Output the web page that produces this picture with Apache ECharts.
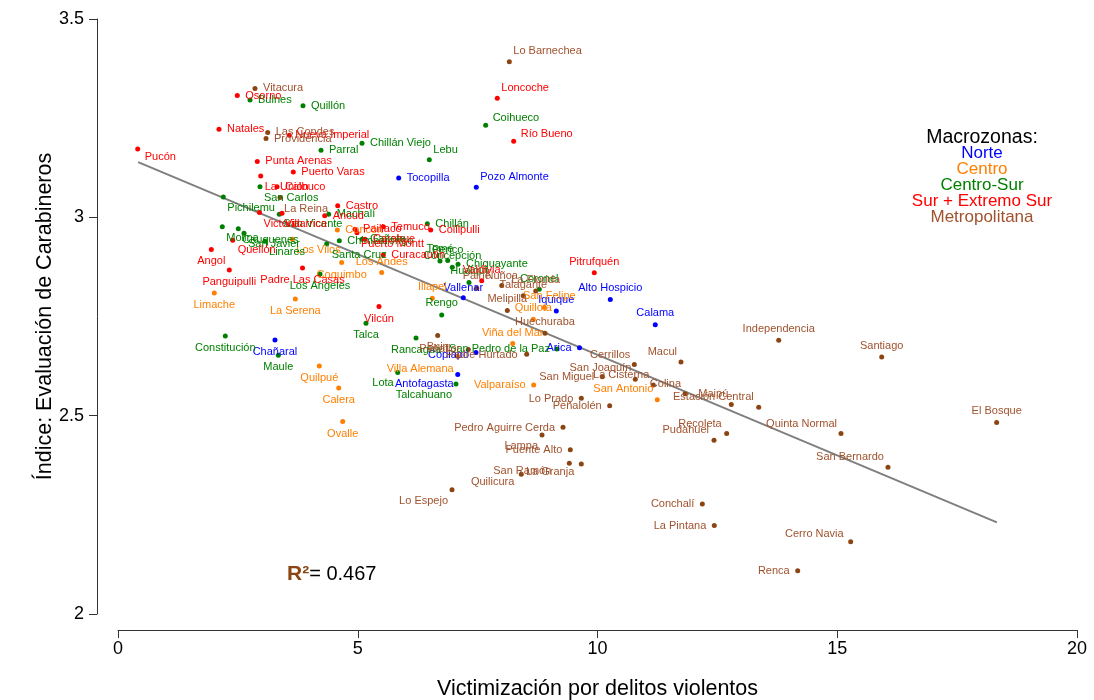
<!DOCTYPE html>
<html><head><meta charset="utf-8">
<script src="https://cdn.jsdelivr.net/npm/echarts@6/dist/echarts.min.js"></script>
<style>html,body{margin:0;padding:0;background:#fff}#c{width:1094px;height:700px}</style>
</head><body><div id="c"></div>
<script>
// ---------- DATA ----------
const zoneNames = ['Norte', 'Centro', 'Centro-Sur', 'Sur + Extremo Sur', 'Metropolitana'];

const norteNames = ['Tocopilla','Pozo Almonte','Chañaral','Antofagasta','Arica','Copiapó','Calama','Alto Hospicio','Iquique','Vallenar'];
const norteX = [5.854, 7.472, 3.274, 7.085, 9.625, 7.466, 11.205, 10.267, 9.141, 7.201];
const norteY = [3.099, 3.076, 2.691, 2.604, 2.671, 2.659, 2.729, 2.793, 2.764, 2.797];

const centroNames = ['Concón','Los Vilos','Limache','La Serena','Quilpué','Calera','Ovalle','Villa Alemana','Quillota','Viña del Mar','Valparaíso','San Antonio','San Felipe','Illapel','Los Andes','Coquimbo'];
const centroX = [4.574, 3.635, 2.008, 3.698, 4.198, 4.603, 4.686, 7.085, 8.661, 8.231, 8.669, 11.247, 8.891, 6.555, 5.499, 4.665];
const centroY = [2.968, 2.945, 2.809, 2.794, 2.625, 2.570, 2.485, 2.649, 2.743, 2.682, 2.577, 2.540, 2.773, 2.796, 2.861, 2.886];

const centroSurNames = ['Bulnes','Quillón','Coihueco','Chillán Viejo','Lebu','Parral','San Carlos','Pichilemu','San Vicente','Machalí','Chillán','Molina','Cauquenes','San Javier','Linares','Los Ángeles','Constitución','Maule','Talca','Rancagua','Lota','Talcahuano','San Pedro de la Paz','Rengo','Tomé','Penco','Concepción','Santa Cruz','Chimbarongo','Cañete','Hualqui','Coronel','Chiguayante'];
const centroSurX = [2.753, 3.858, 7.668, 5.089, 6.492, 4.234, 2.961, 2.196, 3.364, 4.394, 6.451, 2.175, 2.509, 2.628, 3.066, 4.213, 2.238, 3.343, 5.172, 6.215, 5.833, 7.049, 9.155, 6.751, 6.715, 6.876, 6.972, 4.352, 4.615, 5.089, 7.320, 8.786, 7.091];
const centroSurY = [3.296, 3.281, 3.232, 3.187, 3.145, 3.169, 3.077, 3.051, 3.008, 3.008, 2.984, 2.976, 2.971, 2.960, 2.940, 2.857, 2.701, 2.652, 2.733, 2.696, 2.609, 2.580, 2.668, 2.754, 2.890, 2.891, 2.874, 2.933, 2.941, 2.945, 2.836, 2.819, 2.882];

const surNames = ['Osorno','Loncoche','Natales','Nueva Imperial','Río Bueno','Pucón','Punta Arenas','Puerto Varas','La Unión','Calbuco','Castro','Victoria','Villarrica','Ancud','Paillaco','Temuco','Collipulli','Quellón','Angol','Panguipulli','Padre Las Casas','Vilcún','Pitrufquén','Carahue','Puerto Montt','Curacautín','Valdivia'];
const surX = [2.488, 7.910, 2.106, 3.572, 8.252, 0.411, 2.905, 3.656, 2.976, 3.316, 4.582, 2.951, 3.420, 4.311, 4.943, 5.533, 6.521, 2.392, 1.946, 2.321, 3.848, 5.443, 9.933, 5.151, 4.984, 5.533, 7.585];
const surY = [3.307, 3.300, 3.222, 3.207, 3.192, 3.172, 3.141, 3.114, 3.104, 3.077, 3.029, 3.012, 3.010, 3.004, 2.970, 2.976, 2.968, 2.942, 2.919, 2.867, 2.872, 2.775, 2.860, 2.945, 2.961, 2.905, 2.840];

const metroNames = ['Lo Barnechea','Vitacura','Las Condes','Providencia','La Reina','Huechuraba','Padre Hurtado','Buin','Peñaflor','San Miguel','Cerrillos','San Joaquín','La Cisterna','Macul','Colina','Maipú','Estación Central','Independencia','Santiago','Recoleta','Pudahuel','Quinta Normal','San Bernardo','El Bosque','Conchalí','La Pintana','Cerro Navia','Renca','Lo Prado','Peñalolén','Pedro Aguirre Cerda','Lampa','Puente Alto','San Ramón','La Granja','Quilicura','Lo Espejo','Melipilla','Paine','Ñuñoa','Talagante','La Florida'];
const metroX = [8.161, 2.857, 3.122, 3.087, 3.379, 8.905, 8.523, 6.667, 7.305, 10.100, 10.768, 10.788, 11.164, 11.741, 11.825, 12.790, 13.362, 13.779, 15.927, 12.694, 12.430, 15.078, 16.058, 18.325, 12.186, 12.436, 15.280, 14.175, 9.662, 10.254, 9.281, 8.843, 9.433, 9.412, 9.662, 8.411, 6.966, 8.119, 7.481, 8.002, 8.453, 8.711];
const metroY = [3.392, 3.325, 3.214, 3.199, 3.050, 2.708, 2.655, 2.702, 2.667, 2.598, 2.629, 2.592, 2.577, 2.635, 2.555, 2.528, 2.521, 2.690, 2.648, 2.455, 2.438, 2.455, 2.370, 2.483, 2.277, 2.223, 2.182, 2.109, 2.544, 2.525, 2.471, 2.451, 2.414, 2.380, 2.378, 2.352, 2.313, 2.765, 2.821, 2.828, 2.802, 2.814];

// fitted line end points
const trendX = [0.42, 18.33];
const trendY = [3.139, 2.231];
const r2Value = '0.467';

// ---------- LAYOUT (label anchor offsets in px: dx, dy, alignment) ----------
const labelLayout = {
  'Lo Barnechea':[4,-11,'l'],'Loncoche':[4,-10,'l'],'Coihueco':[7,-7,'l'],'Río Bueno':[7,-7,'l'],'Lebu':[4,-10,'l'],
  'Pozo Almonte':[4,-10,'l'],'Pucón':[7,8,'l'],'Providencia':[8,1,'l'],'Nueva Imperial':[6,0,'l'],
  'La Unión':[4,11,'l'],'San Carlos':[4,11,'l'],'La Reina':[4,11,'l'],'Pichilemu':[4,11,'l'],'Victoria':[4,11,'l'],
  'Villarrica':[3,11,'l'],'San Vicente':[4,10,'l'],'Molina':[4,11,'l'],'Cauquenes':[4,11,'l'],'San Javier':[4,11,'l'],
  'Quellón':[5,10,'l'],'Linares':[4,11,'l'],'Los Vilos':[4,11,'l'],'Santa Cruz':[5,11,'l'],'Puerto Montt':[4,11,'l'],
  'Angol':[0,12,'c'],'Panguipulli':[0,12,'c'],'Padre Las Casas':[0,12,'c'],'Limache':[0,12,'c'],'Los Ángeles':[0,12,'c'],
  'La Serena':[0,12,'c'],'Constitución':[0,12,'c'],'Chañaral':[0,12,'c'],'Maule':[0,12,'c'],'Quilpué':[0,12,'c'],
  'Calera':[0,12,'c'],'Ovalle':[0,12,'c'],'Talca':[0,12,'c'],'Vilcún':[0,12,'c'],'Rancagua':[0,12,'c'],'Buin':[0,11,'c'],'Coquimbo':[0,12,'c'],
  'Lota':[-4,11,'r'],'Villa Alemana':[-4,12,'r'],'Antofagasta':[-4,10,'r'],'Talcahuano':[-4,11,'r'],
  'Huechuraba':[0,-11,'c'],'Quillota':[0,-11,'c'],'Viña del Mar':[0,-11,'c'],'Calama':[0,-12,'c'],'Independencia':[0,-11,'c'],
  'Santiago':[0,-11,'c'],'El Bosque':[0,-11,'c'],'Pitrufquén':[0,-11,'c'],'Alto Hospicio':[0,-11,'c'],'Iquique':[0,-11,'c'],
  'San Felipe':[5,-11,'c'],'Melipilla':[0,-12,'c'],'Vallenar':[0,-10,'c'],'Illapel':[0,-11,'c'],'Rengo':[0,-12,'c'],
  'Tomé':[0,-12,'c'],'Penco':[0,-11,'c'],'Concepción':[0,-11,'c'],'Los Andes':[0,-11,'c'],
  'Hualqui':[0,-11,'c'],'Valdivia':[0,-11,'c'],'Paine':[0,-12,'c'],'Ñuñoa':[0,-10,'c'],'Talagante':[0,-11,'c'],'Coronel':[0,-10,'c'],'La Florida':[0,-11,'c'],
  'San Pedro de la Paz':[-7,0,'r'],'Arica':[-8,0,'r'],'Padre Hurtado':[-9,1,'r'],'Copiapó':[-7,2,'r'],'Peñaflor':[-8,0,'r'],
  'Valparaíso':[-8,0,'r'],'San Miguel':[-8,0,'r'],'Cerrillos':[-4,-10,'r'],'San Joaquín':[-4,-11,'r'],'La Cisterna':[-4,-10,'r'],
  'Macul':[-4,-10,'r'],'Colina':[-4,-10,'r'],'San Antonio':[-4,-11,'r'],'Maipú':[-3,-11,'r'],'Estación Central':[-5,-10,'r'],
  'Recoleta':[-5,-10,'r'],'Pudahuel':[-5,-10,'r'],'Quinta Normal':[-4,-10,'r'],'San Bernardo':[-4,-10,'r'],
  'Conchalí':[-8,0,'r'],'La Pintana':[-8,0,'r'],'Cerro Navia':[-7,-8,'r'],'Renca':[-8,0,'r'],'Lo Prado':[-8,1,'r'],
  'Peñalolén':[-8,0,'r'],'Pedro Aguirre Cerda':[-8,1,'r'],'Lampa':[-4,11,'r'],'Puente Alto':[-8,0,'r'],
  'San Ramón':[-18,8,'r'],'La Granja':[-7,8,'r'],'Quilicura':[-7,8,'r'],'Lo Espejo':[-4,11,'r']
};

const dotColors = ['#0000FF', '#FF7F00', '#008000', '#FF0000', '#8B4513'];
const textColors = ['#0000FF', '#FF7F00', '#008000', '#FF0000', '#A0522D'];
const FONT = '"Liberation Sans", Arial, sans-serif';
const SYM = 5;

function buildData(names, xs, ys) {
  return names.map((n, i) => {
    const L = labelLayout[n] || [8, 0, 'l'];
    return {
      name: n,
      value: [xs[i], ys[i]],
      label: {
        position: [SYM / 2 + L[0], SYM / 2 + L[1]],
        align: L[2] === 'l' ? 'left' : (L[2] === 'r' ? 'right' : 'center'),
        verticalAlign: 'middle'
      }
    };
  });
}

const groups = [
  [norteNames, norteX, norteY],
  [centroNames, centroX, centroY],
  [centroSurNames, centroSurX, centroSurY],
  [surNames, surX, surY],
  [metroNames, metroX, metroY]
];

const series = [{
  type: 'line',
  data: trendX.map((x, i) => [x, trendY[i]]),
  symbol: 'none',
  lineStyle: { color: '#7F7F7F', width: 2 },
  z: 1, silent: true
}];
groups.forEach((g, k) => {
  series.push({
    name: zoneNames[k],
    type: 'scatter',
    symbol: 'circle',
    symbolSize: SYM,
    itemStyle: { color: dotColors[k], opacity: 1 },
    label: { show: true, formatter: '{b}', fontSize: 11, fontFamily: FONT, color: textColors[k] },
    labelLayout: { hideOverlap: false },
    data: buildData(g[0], g[1], g[2]),
    z: 3, silent: true
  });
});

const graphics = [
  { type: 'text', x: 982, y: 138, style: { text: 'Macrozonas:', fill: '#000', font: '19.5px ' + FONT, align: 'center', verticalAlign: 'middle' } }
];
zoneNames.forEach((z, k) => {
  graphics.push({
    type: 'text', x: 982, y: 153.5 + 16 * k,
    style: { text: z, fill: textColors[k], font: '17px ' + FONT, align: 'center', verticalAlign: 'middle' }
  });
});
graphics.push({
  type: 'text', x: 287, y: 574,
  style: {
    text: '{a|R²}{b|= ' + r2Value + '}',
    verticalAlign: 'middle', align: 'left',
    rich: {
      a: { fontSize: 21, fontWeight: 'bold', fill: '#8B4513', fontFamily: FONT },
      b: { fontSize: 20, fill: '#000', fontFamily: FONT }
    }
  }
});

const chart = echarts.init(document.getElementById('c'), null, { renderer: 'canvas' });
chart.setOption({
  animation: false,
  backgroundColor: '#fff',
  grid: { left: 118, right: 17, top: 19, bottom: 86, containLabel: false, outerBoundsMode: 'none' },
  xAxis: {
    type: 'value', min: 0, max: 20, interval: 5, offset: 16,
    axisLine: { show: true, onZero: false, lineStyle: { color: '#333', width: 1 } },
    axisTick: { show: true, length: 8, lineStyle: { color: '#333' } },
    axisLabel: { fontSize: 18, color: '#000', margin: 10, fontFamily: FONT },
    splitLine: { show: false },
    name: 'Victimización por delitos violentos', nameLocation: 'middle', nameGap: 48,
    nameMoveOverlap: false,
    nameTextStyle: { fontSize: 21.5, color: '#000', fontFamily: FONT }
  },
  yAxis: {
    type: 'value', min: 2, max: 3.5, interval: 0.5, offset: 21,
    axisLine: { show: true, onZero: false, lineStyle: { color: '#333', width: 1 } },
    axisTick: { show: true, length: 8, lineStyle: { color: '#333' } },
    axisLabel: { fontSize: 18, color: '#000', margin: 13, fontFamily: FONT },
    splitLine: { show: false },
    name: 'Índice: Evaluación de Carabineros', nameLocation: 'middle', nameGap: 41,
    nameMoveOverlap: false,
    nameTextStyle: { fontSize: 21.5, color: '#000', fontFamily: FONT }
  },
  graphic: graphics,
  series: series
});
</script>
</body></html>
